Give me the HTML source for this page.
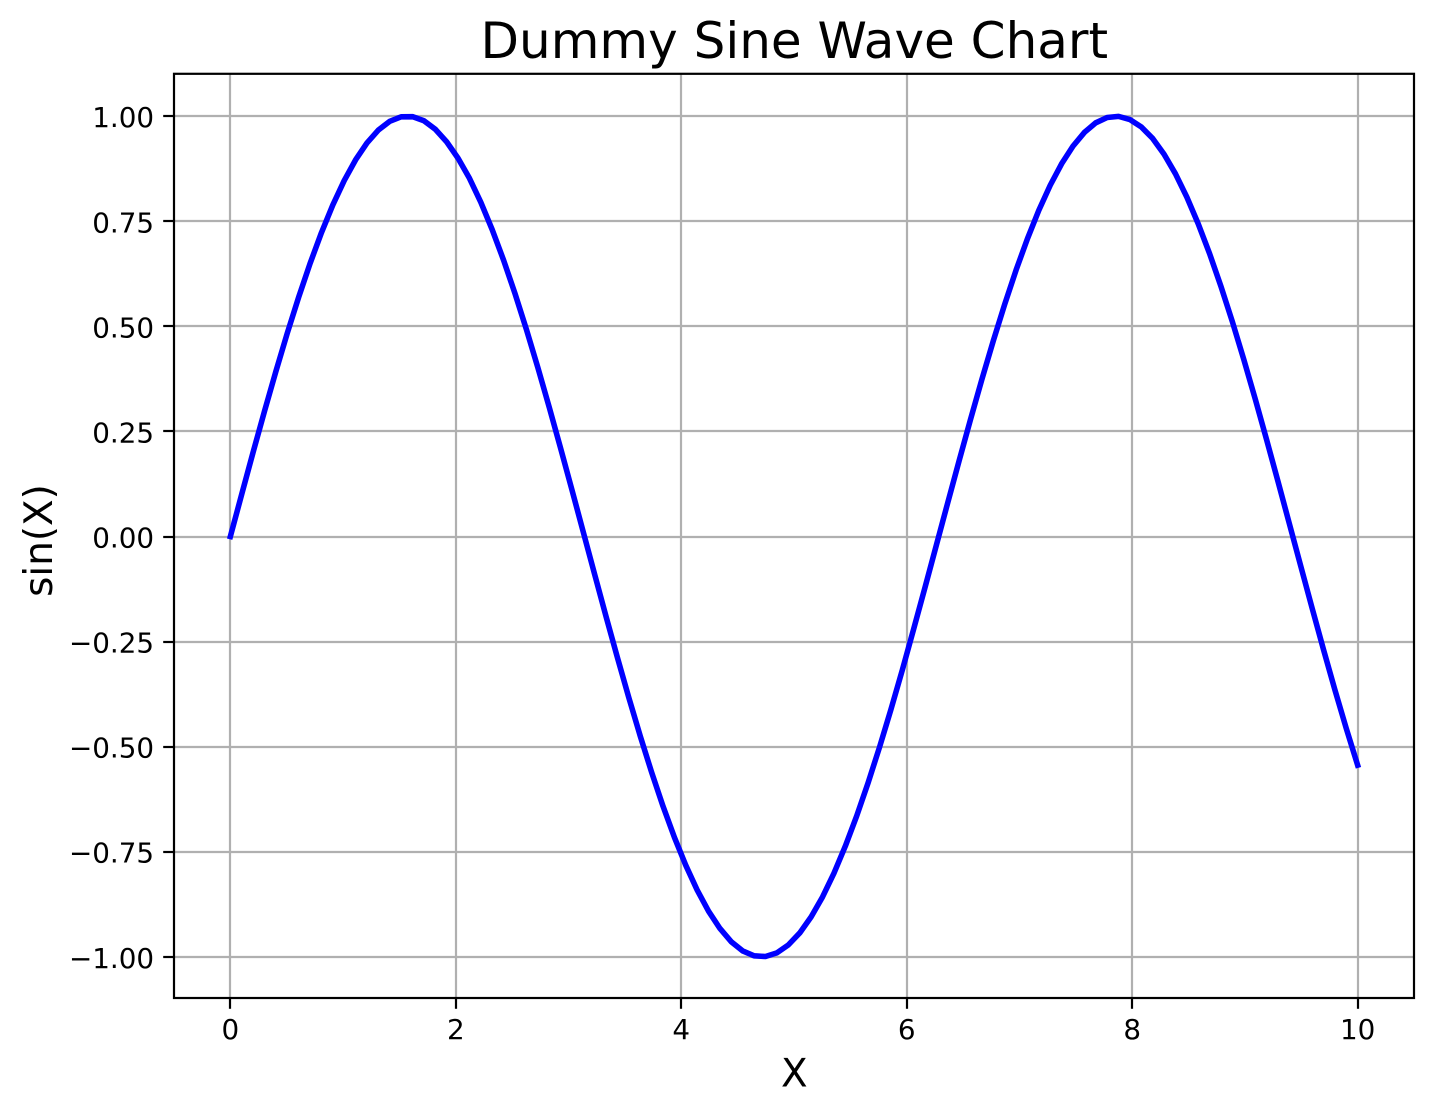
<!DOCTYPE html>
<html lang="en">
<head>
<meta charset="utf-8">
<title>Dummy Sine Wave Chart</title>
<style>
  html, body { margin: 0; padding: 0; background: #fff; }
  body { width: 1433px; height: 1115px; overflow: hidden; }
  svg { display: block; }
  text { font-family: "DejaVu Sans", "Liberation Sans", sans-serif; fill: #000; }
</style>
</head>
<body>
<svg id="chart" xmlns="http://www.w3.org/2000/svg" width="1433" height="1115" viewBox="0 0 1433 1115">
  <rect x="0" y="0" width="1433" height="1115" fill="#ffffff"/>
  <g id="grid"></g>
  <polyline id="series" fill="none" stroke="#0000ff" stroke-width="5.56" stroke-linejoin="round" stroke-linecap="square"></polyline>
  <rect x="174" y="73.8" width="1240" height="924.2" fill="none" stroke="#000" stroke-width="2.2"/>
  <g id="ticks"></g>
  <g id="labels" font-size="27.78"></g>
  <text x="794.3" y="58" font-size="50" text-anchor="middle">Dummy Sine Wave Chart</text>
  <text x="794.3" y="1086.5" font-size="38.89" text-anchor="middle">X</text>
  <text transform="translate(52 540.5) rotate(-90)" font-size="38.89" text-anchor="middle">sin(X)</text>
</svg>
<script>
const xValues = [0,0.101,0.202,0.303,0.404,0.505,0.606,0.707,0.808,0.909,1.010,1.111,1.212,1.313,1.414,1.515,1.616,1.717,1.818,1.919,2.020,2.121,2.222,2.323,2.424,2.525,2.626,2.727,2.828,2.929,3.030,3.131,3.232,3.333,3.434,3.535,3.636,3.737,3.838,3.939,4.040,4.141,4.242,4.343,4.444,4.545,4.646,4.747,4.848,4.949,5.051,5.152,5.253,5.354,5.455,5.556,5.657,5.758,5.859,5.960,6.061,6.162,6.263,6.364,6.465,6.566,6.667,6.768,6.869,6.970,7.071,7.172,7.273,7.374,7.475,7.576,7.677,7.778,7.879,7.980,8.081,8.182,8.283,8.384,8.485,8.586,8.687,8.788,8.889,8.990,9.091,9.192,9.293,9.394,9.495,9.596,9.697,9.798,9.899,10];
const yValues = [0,0.1008,0.2007,0.2984,0.3931,0.4839,0.5696,0.6496,0.7230,0.7889,0.8469,0.8962,0.9364,0.9671,0.9879,0.9986,0.9990,0.9892,0.9691,0.9390,0.9001,0.8524,0.7952,0.7299,0.6574,0.5781,0.4928,0.4026,0.3082,0.2107,0.1111,0.0103,-0.0906,-0.1906,-0.2886,-0.3837,-0.4748,-0.5612,-0.6418,-0.7158,-0.7825,-0.8413,-0.8915,-0.9327,-0.9644,-0.9862,-0.9978,-0.9994,-0.9908,-0.9720,-0.9434,-0.9051,-0.8577,-0.8014,-0.7370,-0.6651,-0.5864,-0.5019,-0.4125,-0.3185,-0.2207,-0.1213,-0.0205,0.0805,0.1805,0.2787,0.3742,0.4657,0.5525,0.6339,0.7087,0.7763,0.8358,0.8869,0.9289,0.9615,0.9844,0.9971,0.9997,0.9921,0.9745,0.9471,0.9095,0.8630,0.8076,0.7439,0.6728,0.5947,0.5108,0.4213,0.3277,0.2308,0.1315,0.0308,-0.0701,-0.1703,-0.2688,-0.3646,-0.4566,-0.5440];
const xTicks = [0,2,4,6,8,10];
const xTickLabels = ["0","2","4","6","8","10"];
const yTicks = [1,0.75,0.5,0.25,0,-0.25,-0.5,-0.75,-1];
const yTickLabels = ["1.00","0.75","0.50","0.25","0.00","\u22120.25","\u22120.50","\u22120.75","\u22121.00"];

const NS = "http://www.w3.org/2000/svg";
const plotLeft = 174, plotRight = 1414, plotTop = 74.3, plotBottom = 998.7;
const xMin = -0.5, xMax = 10.5, yMin = -1.0998, yMax = 1.0998;
function xScale(v) { return plotLeft + (v - xMin) / (xMax - xMin) * (plotRight - plotLeft); }
function yScale(v) { return plotBottom - (v - yMin) / (yMax - yMin) * (plotBottom - plotTop); }
function makeLine(parent, x1, y1, x2, y2, color) {
  const l = document.createElementNS(NS, "line");
  l.setAttribute("x1", x1);
  l.setAttribute("y1", y1);
  l.setAttribute("x2", x2);
  l.setAttribute("y2", y2);
  l.setAttribute("stroke", color);
  l.setAttribute("stroke-width", "2.2");
  parent.appendChild(l);
  return l;
}
function makeText(parent, x, y, anchor, content) {
  const t = document.createElementNS(NS, "text");
  t.setAttribute("x", x);
  t.setAttribute("y", y);
  t.setAttribute("text-anchor", anchor);
  t.textContent = content;
  parent.appendChild(t);
  return t;
}
const gridGroup = document.getElementById("grid");
const tickGroup = document.getElementById("ticks");
const labelGroup = document.getElementById("labels");

xTicks.forEach(function (v, i) {
  const px = Math.round(xScale(v));
  const g = makeLine(gridGroup, px, 73.8, px, 998, "#b0b0b0");
  
  
  const m = makeLine(tickGroup, px, 998, px, 1008.8, "#000");
  
  
  const t = makeText(labelGroup, xScale(v), 1039, "middle", xTickLabels[i]);
  
  
});
yTicks.forEach(function (v, i) {
  const py = Math.round(yScale(v));
  const g = makeLine(gridGroup, plotLeft, py, plotRight, py, "#b0b0b0");
  
  
  const m = makeLine(tickGroup, plotLeft - 10.8, py, plotLeft, py, "#000");
  
  
  const t = makeText(labelGroup, plotLeft - 19.9, yScale(v) + 11, "end", yTickLabels[i]);
  
  
});
document.getElementById("series").setAttribute("points", xValues.map(function (v, i) {
  return xScale(v).toFixed(2) + "," + yScale(yValues[i]).toFixed(2);
}).join(" "));
</script>
</body>
</html>
